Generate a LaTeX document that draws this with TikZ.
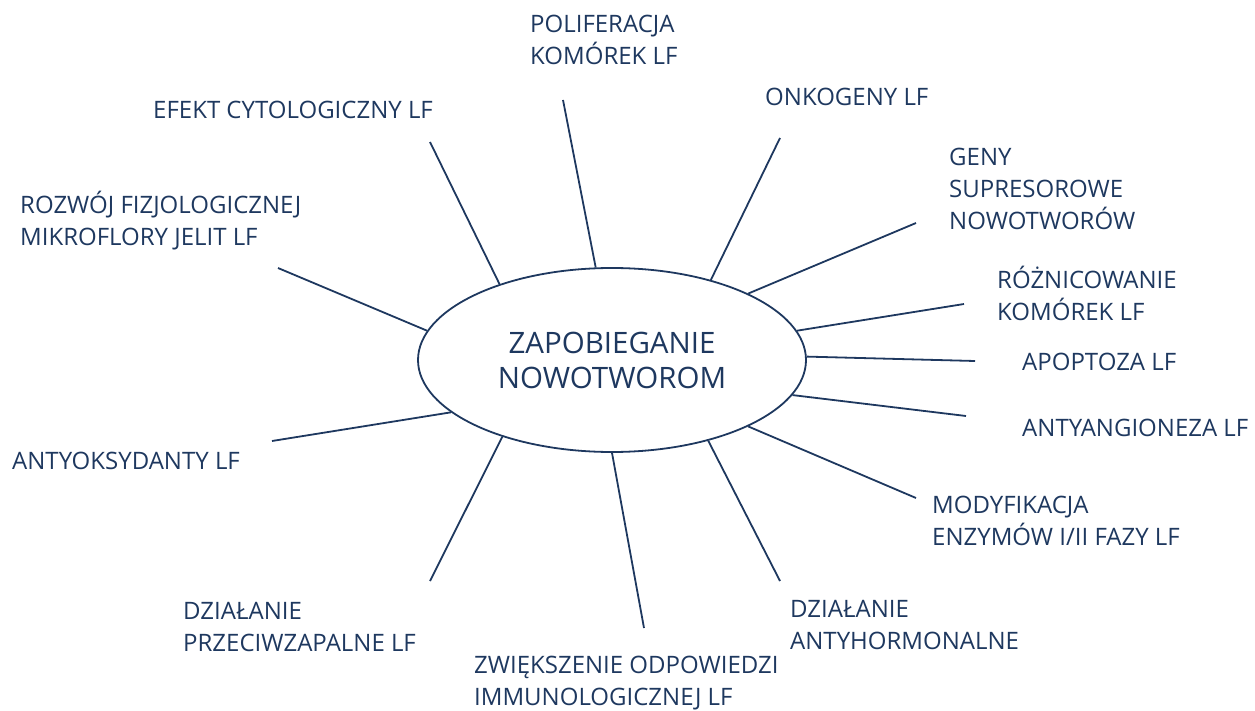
\documentclass[tikz,border=0pt]{standalone}
\usepackage{fontspec}
\setmainfont{Open Sans}
\usepackage{tikz}
\usetikzlibrary{shapes.geometric,positioning}
\definecolor{navy}{RGB}{30,56,95}

\begin{document}
\begin{tikzpicture}[x=1pt,y=-1pt,
    lbl/.style={anchor=base west, align=left, inner sep=0pt, text=navy, font=\fontsize{24}{32}\selectfont},
    spoke/.style={draw=navy, line width=1.8pt}]
    \useasboundingbox (0,0) rectangle (1255,711);
    \node[draw=navy, line width=1.8pt, ellipse, minimum width=388pt, minimum height=184pt, inner sep=0pt, align=center, text=navy, font=\fontsize{29.5}{35}\selectfont] (hub) at (612,360) {ZAPOBIEGANIE\\NOWOTWOROM};
    % labels (anchored at the baseline of their last line)
    \node[lbl] (polif) at (530,65) {POLIFERACJA\\KOMÓREK LF};
    \node[lbl] (onko) at (765,106) {ONKOGENY LF};
    \node[lbl] (efekt) at (153,119) {EFEKT CYTOLOGICZNY LF};
    \node[lbl] (geny) at (949,230) {GENY\\SUPRESOROWE\\NOWOTWORÓW};
    \node[lbl] (rozwoj) at (20,246) {ROZWÓJ FIZJOLOGICZNEJ\\MIKROFLORY JELIT LF};
    \node[lbl] (rozn) at (997,320) {RÓŻNICOWANIE\\KOMÓREK LF};
    \node[lbl] (apopt) at (1022,370) {APOPTOZA LF};
    \node[lbl] (angio) at (1022,436) {ANTYANGIONEZA LF};
    \node[lbl] (modyf) at (932,545) {MODYFIKACJA\\ENZYMÓW I/II FAZY LF};
    \node[lbl] (oksy) at (12,469) {ANTYOKSYDANTY LF};
    \node[lbl] (zapal) at (183,651) {DZIAŁANIE\\PRZECIWZAPALNE LF};
    \node[lbl] (hormon) at (790,649) {DZIAŁANIE\\ANTYHORMONALNE};
    \node[lbl] (immun) at (474,705) {ZWIĘKSZENIE ODPOWIEDZI\\IMMUNOLOGICZNEJ LF};
    % outer ends of the spokes
    \coordinate (e-polif) at (563,100);
    \coordinate (e-efekt) at (430,142);
    \coordinate (e-rozwoj) at (278,268);
    \coordinate (e-oksy) at (272,441);
    \coordinate (e-zapal) at (430,581);
    \coordinate (e-immun) at (644,628);
    \coordinate (e-hormon) at (780,581);
    \coordinate (e-modyf) at (916,498);
    \coordinate (e-angio) at (966,416);
    \coordinate (e-apopt) at (975,361);
    \coordinate (e-rozn) at (964,304);
    \coordinate (e-geny) at (916,223);
    \coordinate (e-onko) at (780,138);
    % spokes
    \draw[spoke] (hub.100) -- (e-polif);
    \draw[spoke] (hub.146) -- (e-efekt);
    \draw[spoke] (hub.171) -- (e-rozwoj);
    \draw[spoke] (hub.198) -- (e-oksy);
    \draw[spoke] (hub.215) -- (e-zapal);
    \draw[spoke] (hub.270) -- (e-immun);
    \draw[spoke] (hub.320) -- (e-hormon);
    \draw[spoke] (hub.334) -- (e-modyf);
    \draw[spoke] (hub.349) -- (e-angio);
    \draw[spoke] (hub.1) -- (e-apopt);
    \draw[spoke] (hub.9) -- (e-rozn);
    \draw[spoke] (hub.26) -- (e-geny);
    \draw[spoke] (hub.39) -- (e-onko);
\end{tikzpicture}
\end{document}
